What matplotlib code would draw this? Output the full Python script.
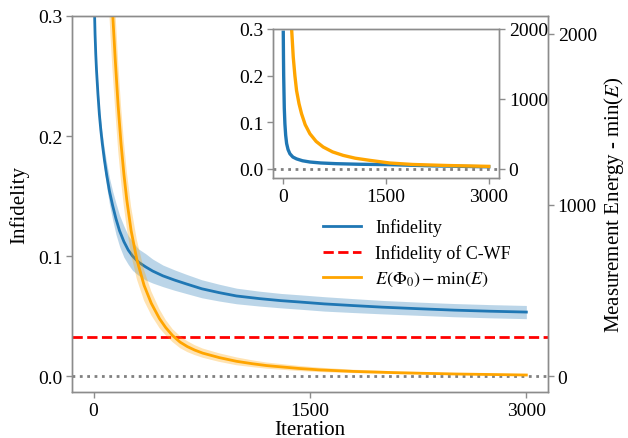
import matplotlib
matplotlib.use("Agg")
import matplotlib.pyplot as plt
import numpy as np

plt.rcParams['font.family'] = ['Liberation Serif', 'DejaVu Serif']
plt.rcParams['mathtext.fontset'] = 'stix'

# ---- data ----
# main panel: infidelity (left axis)
it_inf = [0, 5, 10, 15, 20, 30, 40, 50, 60, 75, 90, 110, 132, 155, 180, 210, 240, 270,
          310, 360, 409, 480, 560, 644, 750, 870, 991, 1150, 1300, 1427, 1600, 1800,
          2000, 2250, 2500, 2750, 3000]
infid = [0.36, 0.31, 0.285, 0.268, 0.255, 0.235, 0.218, 0.205, 0.194, 0.180, 0.168,
         0.154, 0.142, 0.131, 0.121, 0.112, 0.105, 0.100, 0.095, 0.091, 0.0875, 0.0835,
         0.080, 0.0767, 0.0727, 0.0695, 0.0667, 0.0645, 0.0628, 0.0617, 0.0601, 0.0587,
         0.0574, 0.0561, 0.0549, 0.0540, 0.0533]
infid_err = [0.004, 0.004, 0.004, 0.005, 0.005, 0.006, 0.006, 0.007, 0.008, 0.009, 0.010,
             0.011, 0.012, 0.013, 0.013, 0.013, 0.012, 0.012, 0.011, 0.011, 0.010, 0.009,
             0.0085, 0.008, 0.0075, 0.007, 0.0065, 0.0062, 0.006, 0.006, 0.006, 0.0058,
             0.0056, 0.0055, 0.0055, 0.0055, 0.0055]

# main panel: energy gap (right axis)
it_en = [100, 115, 130, 150, 170, 190, 210, 230, 260, 300, 350, 400, 457, 500, 548, 600,
         650, 700, 756, 870, 991, 1100, 1200, 1427, 1566, 1800, 2120, 2500, 3000]
energy = [2700, 2400, 2150, 1850, 1580, 1360, 1180, 1030, 850, 680, 530, 425, 335, 283,
          236, 198, 172, 152, 134, 108, 86, 72, 61, 44, 36, 27, 19, 12, 6]
energy_err = [420, 380, 350, 300, 260, 220, 190, 165, 140, 115, 90, 70, 55, 45, 38, 35,
              32, 29, 27, 25, 23, 20, 18, 15, 13, 10, 8, 6, 5]

cwf_infid = 0.0325

# inset
in_it_inf = [0, 3, 6, 10, 15, 24, 35, 49, 70, 97, 140, 194, 280, 389, 550, 777, 1100,
             1555, 2200, 3000]
in_infid = [0.293, 0.24, 0.20, 0.168, 0.13, 0.096, 0.072, 0.054, 0.041, 0.032, 0.025,
            0.021, 0.017, 0.0143, 0.0122, 0.0107, 0.0095, 0.0086, 0.006, 0.004]
in_it_en = [90, 106, 122, 146, 170, 194, 230, 267, 320, 389, 480, 583, 720, 875, 1050,
            1264, 1555, 1890, 2400, 3000]
in_energy = [2700, 2300, 2000, 1595, 1330, 1119, 930, 786, 630, 500, 390, 310, 240, 190,
             150, 119, 81, 60, 45, 33]

x_ticks = [0, 1500, 3000]

blue = '#1f77b4'
orange = '#ffa500'
spine_c = '#8c8c8c'


def style(a):
    for s in a.spines.values():
        s.set_color(spine_c)
        s.set_linewidth(1.0)
    a.tick_params(direction='out', length=4, width=1, color=spine_c, pad=3,
                  labelsize=14, labelcolor='black')


fig = plt.figure(figsize=(6.28, 4.39), dpi=100)

# ---- main panel ----
ax = fig.add_axes([0.1146, 0.1048, 0.758, 0.8565])
ax2 = ax.twinx()

lo = np.array(infid) - np.array(infid_err)
hi = np.array(infid) + np.array(infid_err)
ax.fill_between(it_inf, lo, hi, color=blue, alpha=0.3, lw=0)
l1, = ax.plot(it_inf, infid, color=blue, lw=2, label='Infidelity')
l2 = ax.axhline(cwf_infid, color='red', ls='--', lw=2, label='Infidelity of C-WF')
ax.axhline(0, color='grey', ls=':', lw=2)

elo = np.array(energy) - np.array(energy_err)
ehi = np.array(energy) + np.array(energy_err)
ax2.fill_between(it_en, elo, ehi, color=orange, alpha=0.3, lw=0)
l3, = ax2.plot(it_en, energy, color=orange, lw=2, label=r'$E(\Phi_0) - \min(E)$')

ax.set_xlim(-150, 3150)
ax.set_ylim(-0.0133, 0.3)
scale = 7016
ax2.set_ylim(-0.0133 * scale, 0.3 * scale)
ax.set_xticks(x_ticks)
ax.set_yticks([0.0, 0.1, 0.2, 0.3])
ax2.set_yticks([0, 1000, 2000])
style(ax)
style(ax2)
ax.set_xlabel('Iteration', fontsize=15, labelpad=1)
ax.set_ylabel('Infidelity', fontsize=15, labelpad=6)
ax2.set_ylabel(r'Measurement Energy - min($E$)', fontsize=15)

fig.legend(handles=[l1, l2, l3], loc='upper left', bbox_to_anchor=(0.488, 0.538),
           frameon=False, fontsize=13, handlelength=2.1, handletextpad=0.8,
           labelspacing=0.45)

# ---- inset ----
axin = fig.add_axes([0.4347, 0.5923, 0.3599, 0.3394])
axin.set_facecolor('white')
axin2 = axin.twinx()
axin.plot(in_it_inf, in_infid, color=blue, lw=2.4)
axin.axhline(0, color='grey', ls=':', lw=2)
axin2.plot(in_it_en, in_energy, color=orange, lw=2.4)
axin.set_xlim(-150, 3150)
axin.set_ylim(-0.02, 0.3)
axin2.set_ylim(-0.02 * 2000 / 0.3, 2000)
axin.set_xticks(x_ticks)
axin.set_yticks([0.0, 0.1, 0.2, 0.3])
axin2.set_yticks([0, 1000, 2000])
style(axin)
style(axin2)

fig.savefig('out.png', dpi=100)
